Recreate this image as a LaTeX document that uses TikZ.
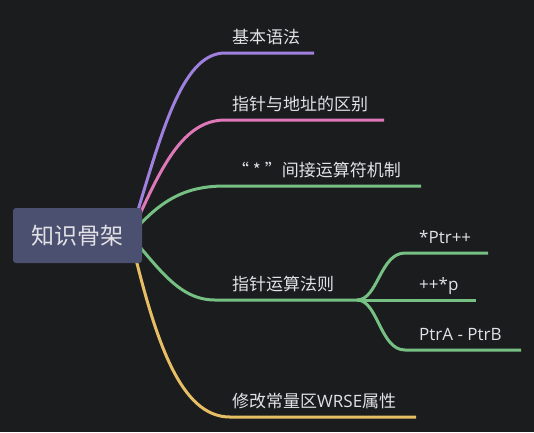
\documentclass[tikz,border=0pt]{standalone}
\usepackage{fontspec}
\setmainfont{Open Sans}
\newfontfamily\cjk{Noto Sans CJK SC}
\usetikzlibrary{backgrounds}
\definecolor{bgc}{RGB}{27,28,30}
\definecolor{rootc}{RGB}{75,80,112}
\definecolor{txtc}{RGB}{226,226,230}
\definecolor{purplec}{RGB}{160,128,222}
\definecolor{pinkc}{RGB}{222,120,184}
\definecolor{greenc}{RGB}{118,192,132}
\definecolor{yellowc}{RGB}{230,190,100}
\begin{document}
\begin{tikzpicture}[x=1pt,y=-1pt,line cap=round,line join=round,
  branch/.style={line width=3pt},
  lbl/.style={anchor=base west,inner sep=0pt,text=txtc,font=\fontsize{17}{20}\selectfont}]
  \useasboundingbox (0,0) rectangle (534,432);
  \node[fill=rootc,rounded corners=3pt,minimum width=129pt,minimum height=55pt,
    text=txtc,font=\fontsize{23}{26}\selectfont\cjk] (root) at (77.5,235.5) {知识骨架};
  \coordinate (hub) at ([xshift=-12pt]root.east);
  % branch ends
  \coordinate (b1) at (314,53);  \coordinate (b2) at (384,120);
  \coordinate (b3) at (421,186); \coordinate (b4) at (357,300);
  \coordinate (b5) at (416,417);
  \coordinate (s1) at (488,253); \coordinate (s2) at (476,300);
  \coordinate (s3) at (521,350);
  % labels
  \node[lbl] (l1) at (232,43) {\cjk 基本语法};
  \node[lbl] (l2) at (232,110) {\cjk 指针与地址的区别};
  \node[lbl] (l3) at (232,176) {\cjk “ * ”间接运算符机制};
  \node[lbl] (l4) at (232,290) {\cjk 指针运算法则};
  \node[lbl] (l5) at (232,407) {{\cjk 修改常量区}WRSE{\cjk 属性}};
  \node[lbl] (m1) at (419,243) {*Ptr++};
  \node[lbl] (m2) at (419,290) {++*p};
  \node[lbl] (m3) at (419,340) {PtrA - PtrB};
  \begin{pgfonlayer}{background}
    \fill[bgc] (0,0) rectangle (534,432);
    \draw[branch,purplec] (hub) .. controls (160,140) and (180,53) .. (225,53) -- (b1);
    \draw[branch,pinkc] (hub) .. controls (158,175) and (180,120) .. (225,120) -- (b2);
    \draw[branch,greenc] (hub) .. controls (160,200) and (185,186) .. (225,186) -- (b3);
    \draw[branch,greenc] (hub) .. controls (160,270) and (180,300) .. (215,300) -- (b4);
    \draw[branch,yellowc] (hub) .. controls (155,340) and (180,417) .. (230,417) -- (b5);
    \draw[branch,greenc] (b4) .. controls (378,300) and (380,253) .. (405,253) -- (s1);
    \draw[branch,greenc] (b4) -- (s2);
    \draw[branch,greenc] (b4) .. controls (378,300) and (380,350) .. (405,350) -- (s3);
  \end{pgfonlayer}
\end{tikzpicture}
\end{document}
